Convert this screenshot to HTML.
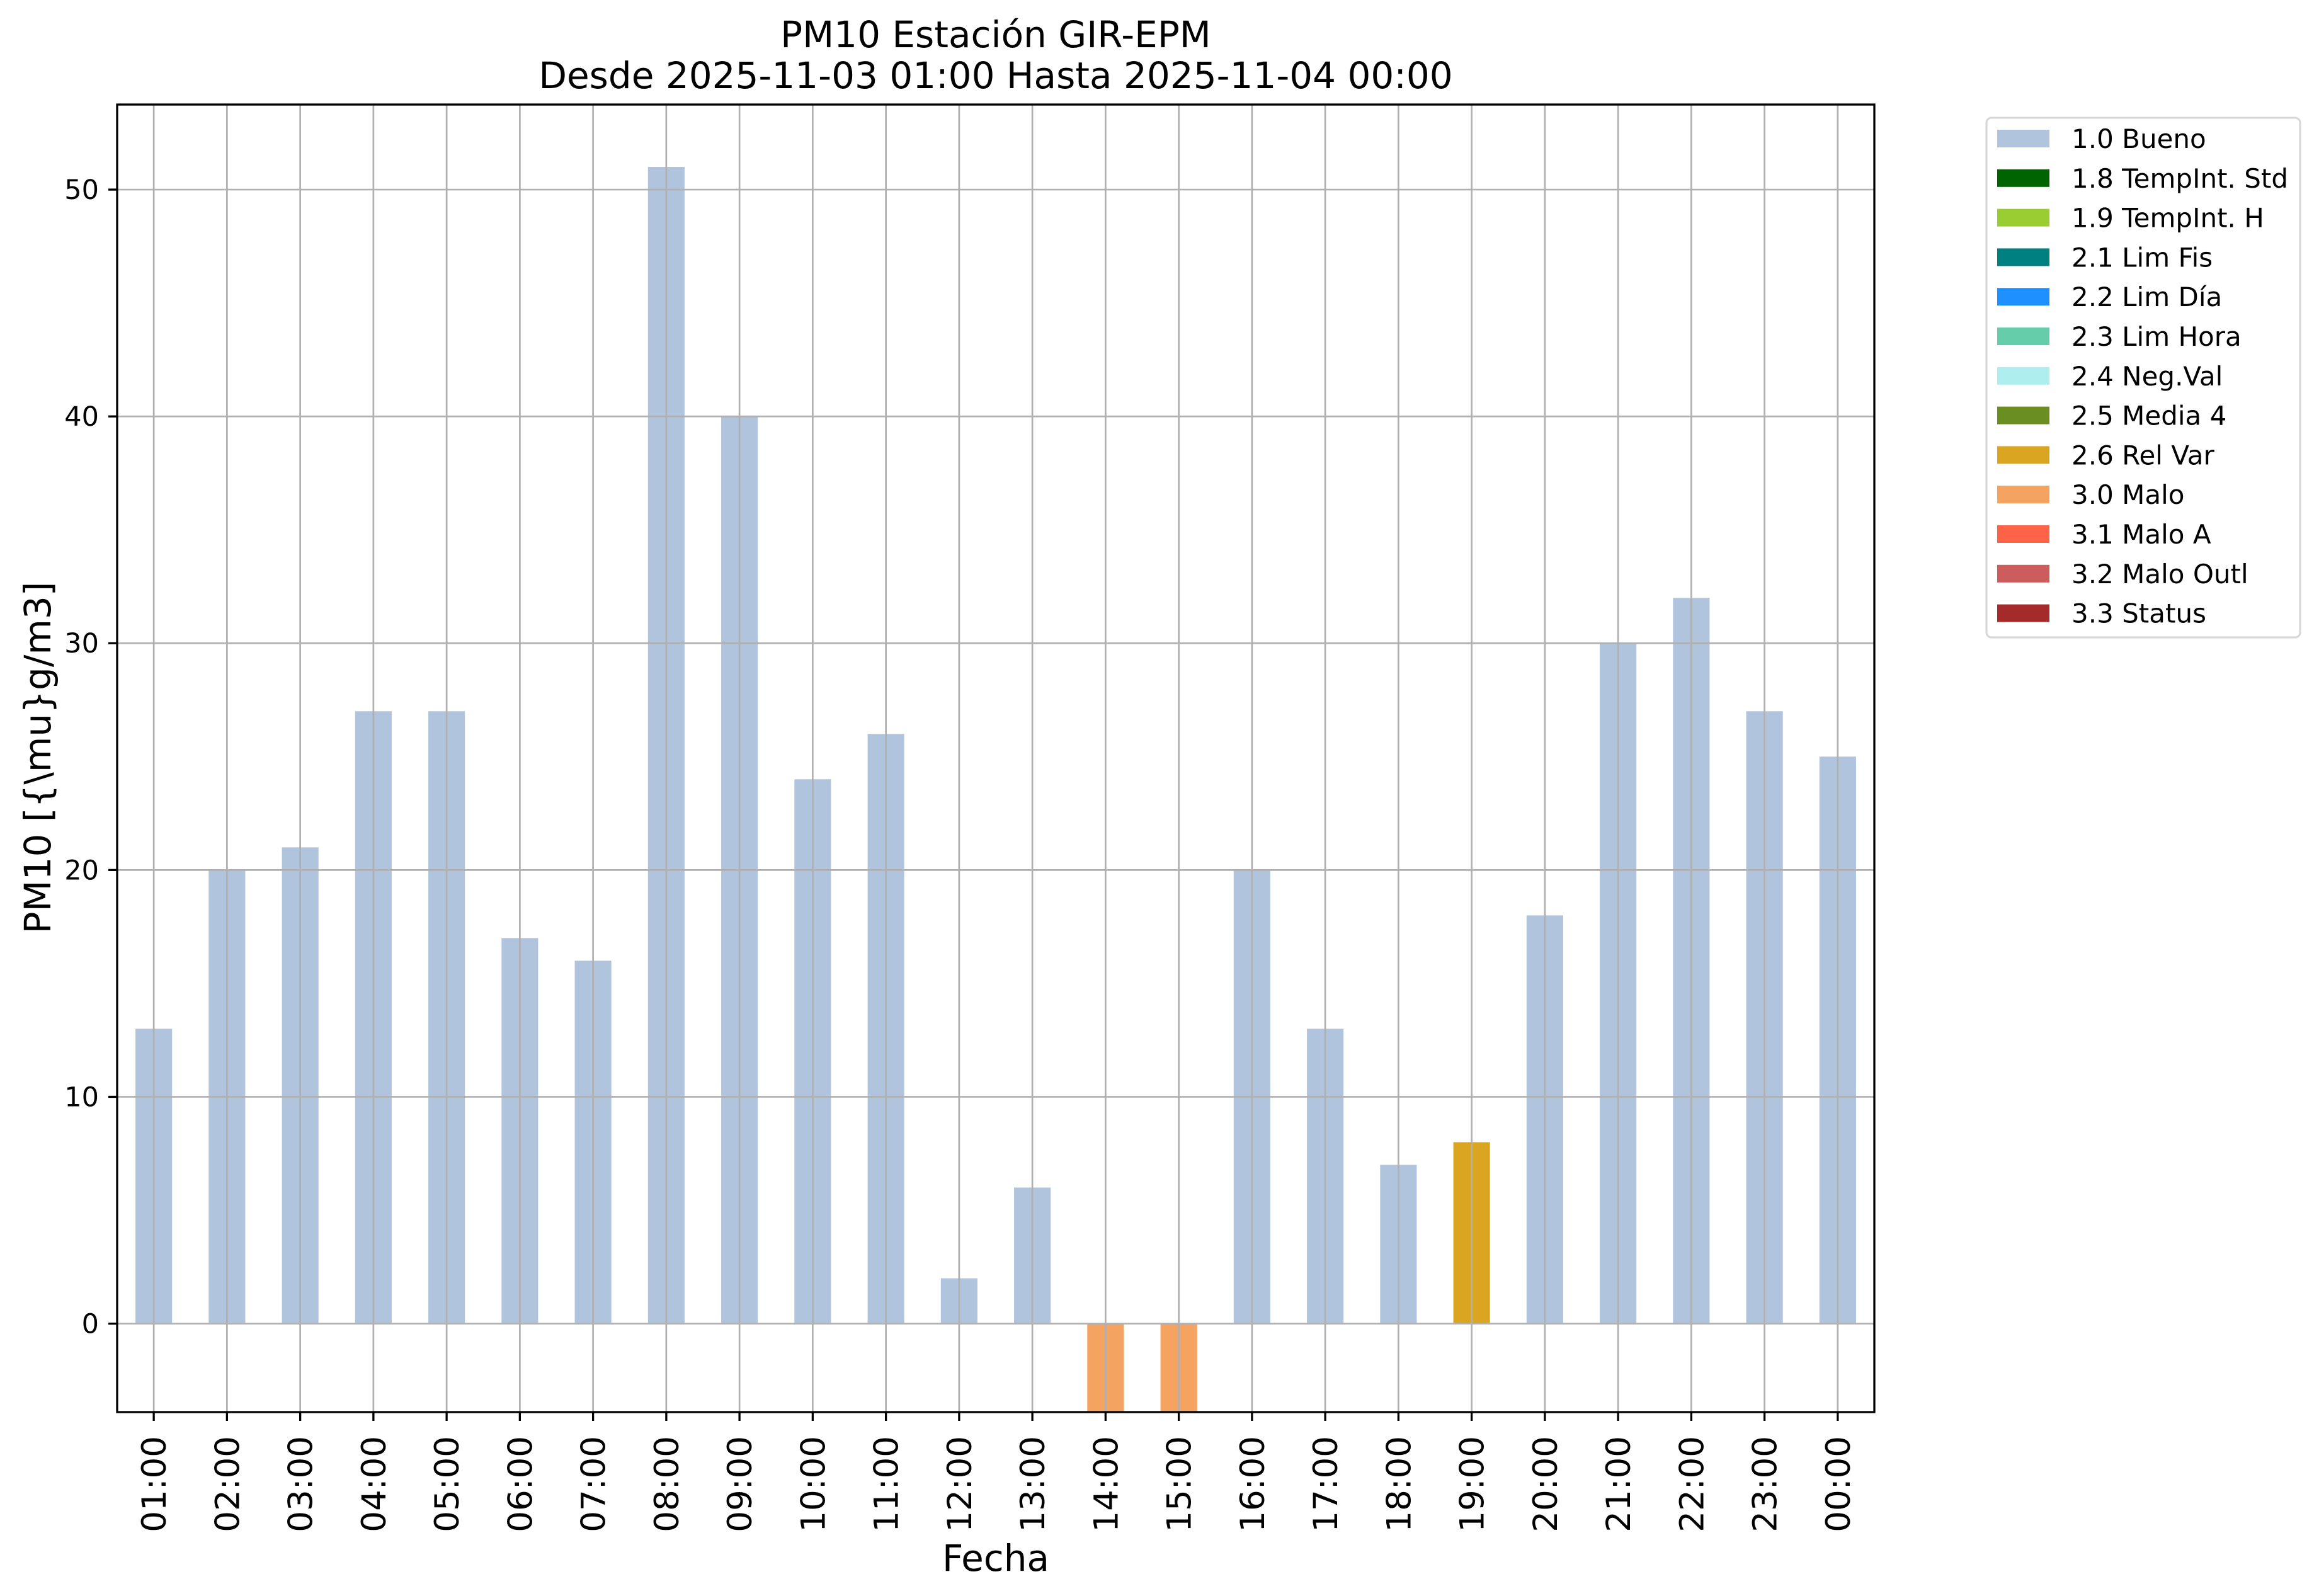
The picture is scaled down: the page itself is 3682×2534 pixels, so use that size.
<!DOCTYPE html>
<html><head><meta charset="utf-8"><style>
html,body{margin:0;padding:0;background:#fff;}
svg{display:block;font-family:"DejaVu Sans","Liberation Sans",sans-serif;}
</style></head><body>
<svg id="chart" width="3682" height="2534" viewBox="0 0 3682 2534" xmlns="http://www.w3.org/2000/svg">
<rect width="3682" height="2534" fill="#fff"/>
<text x="1581" y="75" font-size="58" text-anchor="middle">PM10 Estación GIR-EPM</text>
<text x="1581" y="140" font-size="58" text-anchor="middle">Desde 2025-11-03 01:00 Hasta 2025-11-04 00:00</text>
<g id="bars"></g>
<g id="grid"></g>
<rect x="186" y="166" width="2790" height="2076" fill="none" stroke="#000" stroke-width="3.3"/>
<g id="yticks"></g>
<g id="xticks"></g>
<text x="1581" y="2494" font-size="58" text-anchor="middle">Fecha</text>
<text transform="translate(80,1203) rotate(-90)" font-size="58" text-anchor="middle">PM10 [{\mu}g/m3]</text>
<g id="legend"></g>
</svg>
<script>
const categories = ["01:00","02:00","03:00","04:00","05:00","06:00","07:00","08:00","09:00","10:00","11:00","12:00","13:00","14:00","15:00","16:00","17:00","18:00","19:00","20:00","21:00","22:00","23:00","00:00"];
const values = [13,20,21,27,27,17,16,51,40,24,26,2,6,-5,-5,20,13,7,8,18,30,32,27,25];
const flags = ["1.0","1.0","1.0","1.0","1.0","1.0","1.0","1.0","1.0","1.0","1.0","1.0","1.0","3.0","3.0","1.0","1.0","1.0","2.6","1.0","1.0","1.0","1.0","1.0"];
const yTicks = [0,10,20,30,40,50];
const legendCodes = ["1.0","1.8","1.9","2.1","2.2","2.3","2.4","2.5","2.6","3.0","3.1","3.2","3.3"];
const legendLabels = ["1.0 Bueno","1.8 TempInt. Std","1.9 TempInt. H","2.1 Lim Fis","2.2 Lim Día","2.3 Lim Hora","2.4 Neg.Val","2.5 Media 4","2.6 Rel Var","3.0 Malo","3.1 Malo A","3.2 Malo Outl","3.3 Status"];
const legendColors = ["#B0C4DE","#006400","#9ACD32","#008080","#1E90FF","#66CDAA","#AFEEEE","#6B8E23","#DAA520","#F4A460","#FF6347","#CD5C5C","#A52A2A"];

const NS="http://www.w3.org/2000/svg";
const L=186,R=2976,T=166,B=2242,yMin=-3.9,yMax=53.75;
const bw=(R-L)/categories.length;
const xs=i=>L+(i+0.5)*bw;
const ys=v=>B-(v-yMin)/(yMax-yMin)*(B-T);
function mk(tag,attrs,parent){const e=document.createElementNS(NS,tag);for(const k in attrs)e.setAttribute(k,attrs[k]);parent.appendChild(e);return e;}
const gB=document.getElementById('bars'),gG=document.getElementById('grid'),gY=document.getElementById('yticks'),gX=document.getElementById('xticks'),gL=document.getElementById('legend');
const defs=mk('defs',{},document.getElementById('chart'));
const cp=mk('clipPath',{id:'pc'},defs);mk('rect',{x:L,y:T,width:R-L,height:B-T},cp);
gB.setAttribute('clip-path','url(#pc)');
values.forEach((v,i)=>{
  const c=legendColors[legendCodes.indexOf(flags[i])];
  const y0=ys(0),y1=ys(v);
  const r=mk('rect',{x:xs(i)-bw/4,y:Math.min(y0,y1),width:bw/2,height:Math.abs(y1-y0),fill:c},gB);
  
  
});
yTicks.forEach(t=>{
  const y=ys(t);
  const gl=mk('line',{x1:L,x2:R,y1:y,y2:y,stroke:'#b0b0b0','stroke-width':2.7},gG);
  
  
  mk('line',{x1:172,x2:L,y1:y,y2:y,stroke:'#000','stroke-width':3.3},gY);
  const tx=mk('text',{x:157,y:y+15,'font-size':43,'text-anchor':'end'},gY);
  tx.textContent=t;
  
  
});
categories.forEach((c,i)=>{
  const x=xs(i);
  const gl=mk('line',{x1:x,x2:x,y1:T,y2:B,stroke:'#b0b0b0','stroke-width':2.7},gG);
  
  
  mk('line',{x1:x,x2:x,y1:B,y2:B+14,stroke:'#000','stroke-width':3.3},gX);
  const tx=mk('text',{transform:`translate(${x+19},2280) rotate(-90)`,'font-size':53,'text-anchor':'end'},gX);
  tx.textContent=c;
  
  
});
const lb=mk('rect',{x:3154,y:187,width:498,height:825,rx:8,fill:'#fff',stroke:'#d6d6d6','stroke-width':3},gL);


legendLabels.forEach((lab,i)=>{
  const cy=220+i*62.8;
  const g=mk('g',{},gL);
  
  
  mk('rect',{x:3171,y:cy-14,width:83,height:28,fill:legendColors[i]},g);
  const t=mk('text',{x:3289,y:cy+15,'font-size':42},g);
  t.textContent=lab;
});
</script>
</body></html>
